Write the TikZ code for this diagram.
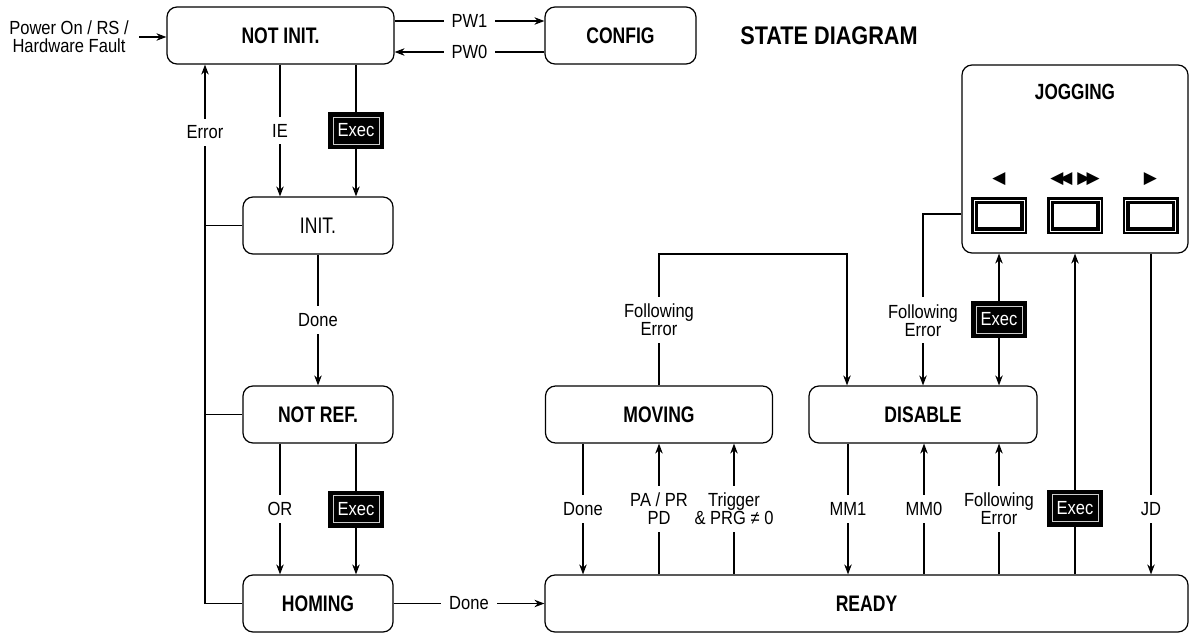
\documentclass[tikz,border=0pt]{standalone}
\usepackage{fontspec}
\setmainfont{Liberation Sans}
\newfontfamily\labf[FakeStretch=0.87]{Liberation Sans}
\newfontfamily\statef[FakeStretch=0.78]{Liberation Sans}
\newfontfamily\titlef[FakeStretch=0.85]{Liberation Sans}
\newfontfamily\symf{DejaVu Sans}
\usetikzlibrary{arrows.meta}
\begin{document}
\begin{tikzpicture}[x=1pt,y=-1pt,line width=1.2pt,
  >={Stealth[length=10pt,width=7.5pt]},
  stbox/.style={draw, rounded corners=10pt, minimum height=57pt, inner sep=0pt,
    font=\statef\bfseries\fontsize{22.5}{24}\selectfont},
  lab/.style={fill=white, inner xsep=8pt, inner ysep=7pt, align=center,
    font=\labf\fontsize{19}{18}\selectfont},
  execbox/.style={fill=black, text=white, minimum width=56pt, minimum height=37pt,
    inner sep=0pt, font=\labf\fontsize{19}{18}\selectfont,
    path picture={\draw[gray!40, line width=0.7pt]
      ([shift={(5pt,-5pt)}]path picture bounding box.north west) rectangle
      ([shift={(-5pt,5pt)}]path picture bounding box.south east);}},
  jogbtn/.style={fill=black, minimum width=56pt, minimum height=37pt, inner sep=0pt,
    path picture={\draw[white, line width=0.7pt]
      ([shift={(3pt,-3pt)}]path picture bounding box.north west) rectangle
      ([shift={(-3pt,3pt)}]path picture bounding box.south east);
      \fill[white]
      ([shift={(7pt,-7pt)}]path picture bounding box.north west) rectangle
      ([shift={(-7pt,7pt)}]path picture bounding box.south east);}},
  symb/.style={font=\symf\fontsize{17}{17}\selectfont, inner sep=0pt}
]
\fill[white] (0,0) rectangle (1194,632);
\useasboundingbox (0,0) rectangle (1194,632);

% states
\node[stbox, minimum width=227pt] (notinit) at (280.5,35.5) {NOT INIT.};
\node[stbox, minimum width=151pt] (config) at (620.5,35.5) {CONFIG};
\node[font=\titlef\bfseries\fontsize{25.5}{28}\selectfont, inner sep=0pt] (title) at (829,36) {STATE DIAGRAM};
\node[stbox, minimum width=150pt, font=\statef\fontsize{22.5}{24}\selectfont] (init) at (318,225.5) {INIT.};
\node[stbox, minimum width=150pt] (notref) at (318,414.5) {NOT REF.};
\node[stbox, minimum width=150pt] (homing) at (318,603.5) {HOMING};
\node[stbox, minimum width=227pt] (moving) at (659,414.5) {MOVING};
\node[stbox, minimum width=228pt] (disable) at (923,414.5) {DISABLE};
\node[stbox, minimum width=643pt] (ready) at (866.5,603.5) {READY};
\node[stbox, minimum width=226pt, minimum height=188pt] (jogging) at (1075,159) {};
\node[font=\statef\bfseries\fontsize{22}{24}\selectfont, inner sep=0pt] (jogtitle) at (1075,92) {JOGGING};
\node[jogbtn] (b1) at (999,215.5) {};
\node[jogbtn] (b2) at (1075,215.5) {};
\node[jogbtn] (b3) at (1150.5,215.5) {};
\node[symb] (t1) at (999,179) {◀};
\node[symb] (t2) at (1075,179) {◀\kern-4pt◀\kern5pt▶\kern-4pt▶};
\node[symb] (t3) at (1150.5,179) {▶};

\node[lab, fill=none, inner xsep=10pt, inner ysep=0pt] (pwr) at (69,37) {Power On / RS /\\Hardware Fault};

% x and y positions of connectors
\coordinate (xErr) at (205,0);
\coordinate (xIE) at (280,0);
\coordinate (xEx) at (356,0);
\coordinate (yPW1) at (0,21);
\coordinate (yPW0) at (0,52);
\coordinate (xDM) at (583,0);
\coordinate (xPA) at (659,0);
\coordinate (xTr) at (734,0);
\coordinate (xM1) at (848,0);
\coordinate (xM0) at (924,0);
\coordinate (xFE) at (999,0);
\coordinate (xJX) at (1075,0);
\coordinate (xJD) at (1151,0);
\coordinate (yTop) at (0,254);
\coordinate (xFE2) at (847,0);
\coordinate (yJL) at (0,214);
\coordinate (xFE1) at (923,0);

% connectors
\draw[->] (pwr.east) -- (notinit.west |- pwr.east);
\draw[->] (notinit.east |- yPW1) -- node[lab]{PW1} (config.west |- yPW1);
\draw[->] (config.west |- yPW0) -- node[lab]{PW0} (notinit.east |- yPW0);

\draw[->] (notinit.south -| xIE) -- node[lab]{IE} (init.north -| xIE);
\draw[->] (notinit.south -| xEx) -- node[execbox]{Exec} (init.north -| xEx);
\draw[->] (init.south) -- node[lab]{Done} (notref.north);
\draw[->] (notref.south -| xIE) -- node[lab]{OR} (homing.north -| xIE);
\draw[->] (notref.south -| xEx) -- node[execbox]{Exec} (homing.north -| xEx);

\draw (homing.west) -- (homing.west -| xErr) -- (init.west -| xErr);
\draw[->] (init.west -| xErr) -- node[lab, pos=0.58]{Error} (notinit.south -| xErr);
\draw (init.west) -- (init.west -| xErr);
\draw (notref.west) -- (notref.west -| xErr);

\draw[->] (homing.east) -- node[lab]{Done} (ready.west);

\draw[->] (moving.south -| xDM) -- node[lab]{Done} (ready.north -| xDM);
\draw[->] (ready.north -| xPA) -- node[lab]{PA / PR\\PD} (moving.south -| xPA);
\draw[->] (ready.north -| xTr) -- node[lab]{Trigger\\\& PRG ≠ 0} (moving.south -| xTr);

\draw[->] (disable.south -| xM1) -- node[lab]{MM1} (ready.north -| xM1);
\draw[->] (ready.north -| xM0) -- node[lab]{MM0} (disable.south -| xM0);
\draw[->] (ready.north -| xFE) -- node[lab]{Following\\Error} (disable.south -| xFE);
\draw[->] (ready.north -| xJX) -- node[execbox, pos=0.206]{Exec} (jogging.south -| xJX);
\draw[->] (jogging.south -| xJD) -- node[lab, pos=0.796]{JD} (ready.north -| xJD);

\draw[->] (moving.north -| xPA) -- node[lab]{Following\\Error} (xPA |- yTop) -- (xFE2 |- yTop) -- (disable.north -| xFE2);
\draw[->] (jogging.west |- yJL) -- (xFE1 |- yJL) -- node[lab, pos=0.62]{Following\\Error} (disable.north -| xFE1);
\draw[<->] (jogging.south -| xFE) -- node[execbox]{Exec} (disable.north -| xFE);
\end{tikzpicture}
\end{document}
